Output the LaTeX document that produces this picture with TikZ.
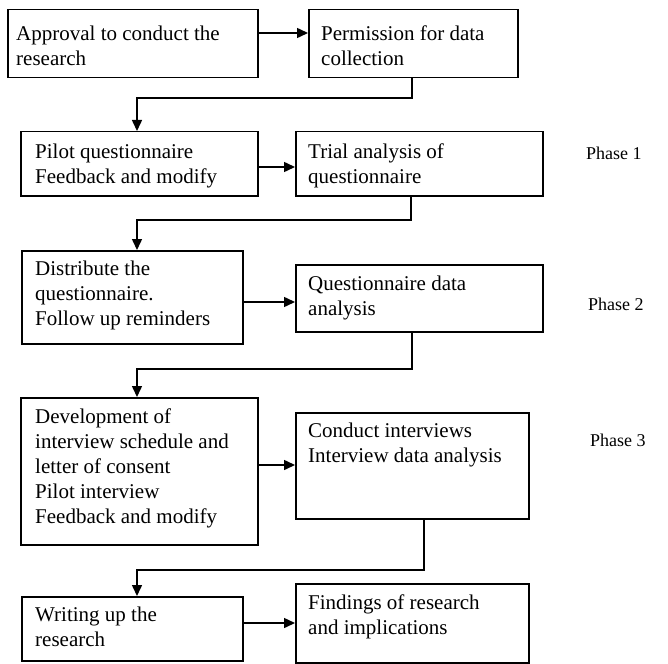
\documentclass[tikz,border=0pt]{standalone}
\usepackage{fontspec}
\setmainfont{Liberation Serif}
\usetikzlibrary{arrows.meta,calc}
\begin{document}
\begin{tikzpicture}[x=1pt,y=-1pt,
  boxshape/.style={draw, line width=1.5pt, inner sep=0pt, anchor=north west},
  boxtext/.style={anchor=north west, align=left, inner sep=0pt, font=\fontsize{21}{25}\selectfont},
  phasetext/.style={anchor=base west, inner sep=0pt, font=\fontsize{18}{20}\selectfont},
  flow/.style={line width=1.5pt, -{Triangle[length=11pt,width=10pt]}}]
\useasboundingbox (0,0) rectangle (668,663);
% boxes
\node[boxshape, minimum width=250pt, minimum height=68pt] (A) at (7,9) {};
\node[boxshape, minimum width=209pt, minimum height=68pt] (B) at (308,9) {};
\node[boxshape, minimum width=237pt, minimum height=64pt] (C) at (20,131) {};
\node[boxshape, minimum width=247pt, minimum height=64pt] (D) at (295,131) {};
\node[boxshape, minimum width=221pt, minimum height=93pt] (E) at (21,250) {};
\node[boxshape, minimum width=247pt, minimum height=67pt] (F) at (295,264) {};
\node[boxshape, minimum width=237pt, minimum height=147pt] (G) at (20,397) {};
\node[boxshape, minimum width=233pt, minimum height=106pt] (H) at (295,412) {};
\node[boxshape, minimum width=221pt, minimum height=64pt] (I) at (21,596) {};
\node[boxshape, minimum width=233pt, minimum height=79pt] (J) at (295,583) {};
% texts (first baseline about 15pt below the given top)
\node[boxtext] (At) at (16,26) {Approval to conduct the\\research};
\node[boxtext] (Bt) at (321,26) {Permission for data\\collection};
\node[boxtext] (Ct) at (35,144) {Pilot questionnaire\\Feedback and modify};
\node[boxtext] (Dt) at (308,144) {Trial analysis of\\questionnaire};
\node[boxtext] (Et) at (35,261) {Distribute the\\questionnaire.\\Follow up reminders};
\node[boxtext] (Ft) at (308,276) {Questionnaire data\\analysis};
\node[boxtext] (Gt) at (35,409) {Development of\\interview schedule and\\letter of consent\\Pilot interview\\Feedback and modify};
\node[boxtext] (Ht) at (308,423) {Conduct interviews\\Interview data analysis};
\node[boxtext] (It) at (35,607) {Writing up the\\research};
\node[boxtext] (Jt) at (308,595) {Findings of research\\and implications};
% phase labels
\node[phasetext] (P1) at (586,160) {Phase 1};
\node[phasetext] (P2) at (588,310) {Phase 2};
\node[phasetext] (P3) at (590,446) {Phase 3};
% horizontal arrows
\draw[flow] ($(A.north east)+(0,24)$) -- ($(B.north west)+(0,24)$);
\draw[flow] ($(C.north east)+(0,36)$) -- ($(D.north west)+(0,36)$);
\draw[flow] ($(E.north east)+(0,52)$) -- ($(F.north west)+(0,38)$);
\draw[flow] ($(G.north east)+(0,68)$) -- ($(H.north west)+(0,53)$);
\draw[flow] ($(I.north east)+(0,27)$) -- ($(J.north west)+(0,40)$);
% elbow connectors
\draw[flow] ($(B.south west)+(104,0)$) |- ($(C.north west)+(117,-33)$) -- ($(C.north west)+(117,0)$);
\draw[flow] ($(D.south west)+(116,0)$) |- ($(E.north west)+(116,-30)$) -- ($(E.north west)+(116,0)$);
\draw[flow] ($(F.south west)+(117,0)$) |- ($(G.north west)+(117,-28)$) -- ($(G.north west)+(117,0)$);
\draw[flow] ($(H.south west)+(129,0)$) |- ($(I.north west)+(116,-26)$) -- ($(I.north west)+(116,0)$);
\end{tikzpicture}
\end{document}
